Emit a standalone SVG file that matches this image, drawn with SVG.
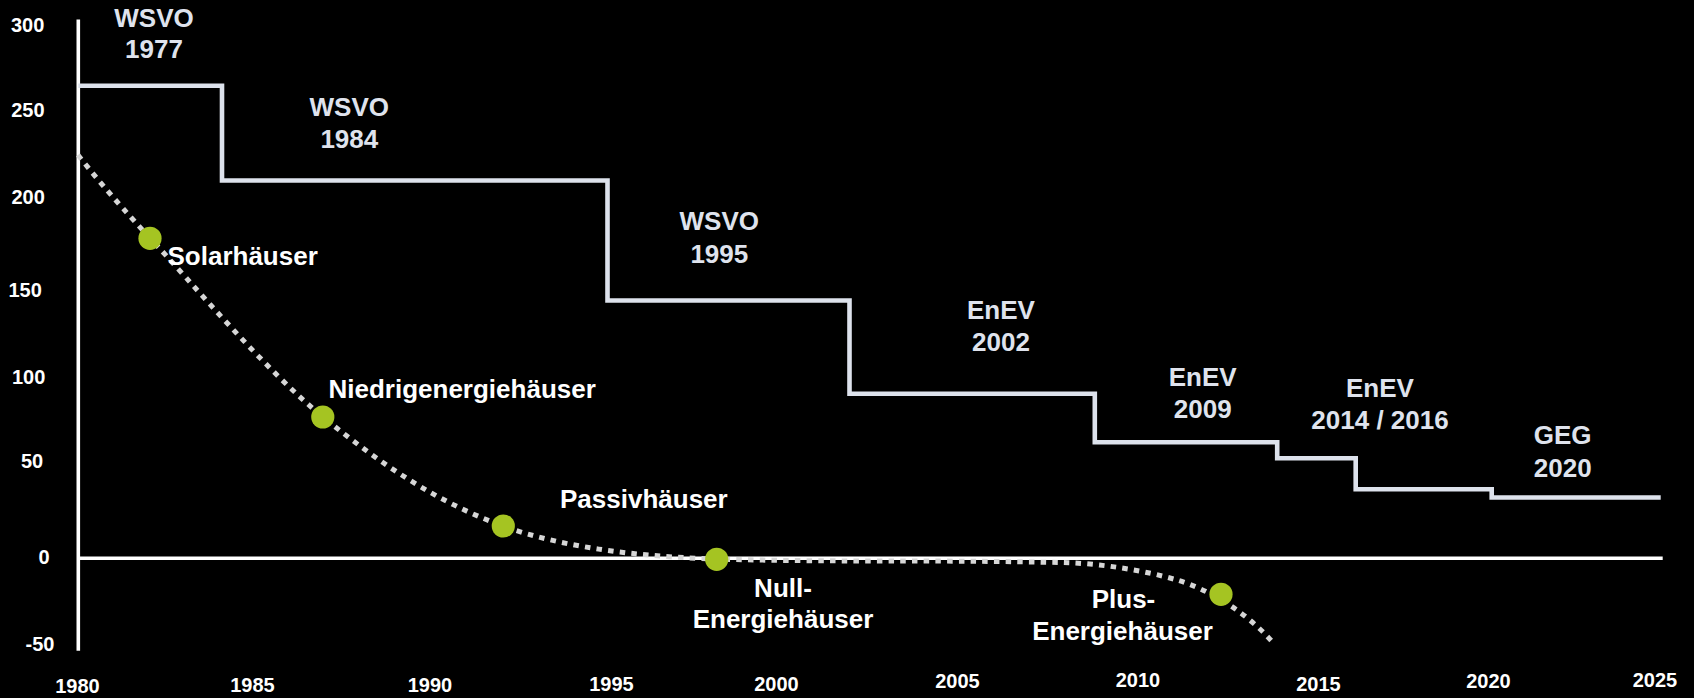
<svg xmlns="http://www.w3.org/2000/svg" width="1694" height="698" viewBox="0 0 1694 698">
<style>
text{font-family:"Liberation Sans",Arial,sans-serif;font-weight:bold}
.ax{font-size:20px;fill:#ffffff}
.xl{text-anchor:middle}
.std{font-size:26px;fill:#dfe3ed;text-anchor:middle}
.lab{font-size:26px;fill:#ffffff}
.mid{text-anchor:middle}
.axis{stroke:#ffffff;stroke-width:3.6;fill:none}
.step{stroke:#dde2ec;stroke-width:4.6;fill:none;stroke-linejoin:miter}
.trend{stroke:#d6d6d6;stroke-width:5;fill:none;stroke-dasharray:5.5 6.2}
.dot{fill:#a5c422}
</style>
<rect width="1694" height="698" fill="#000000"/>
<g id="axes">
<line class="axis" x1="78.3" y1="19.5" x2="78.3" y2="650.7"/>
<line class="axis" x1="78.3" y1="558.3" x2="1662.7" y2="558.3"/>
</g>
<g id="y-labels" class="ax">
<text x="11" y="31.5">300</text>
<text x="11.2" y="116.5">250</text>
<text x="11.5" y="204">200</text>
<text x="8.5" y="297.3">150</text>
<text x="12" y="384.3">100</text>
<text x="21" y="468">50</text>
<text x="38.5" y="564.3">0</text>
<text x="25.5" y="650.5">-50</text>
</g>
<g id="x-labels" class="ax xl">
<text x="77.5" y="693">1980</text>
<text x="252.5" y="692">1985</text>
<text x="430" y="692">1990</text>
<text x="611.5" y="691">1995</text>
<text x="776.5" y="691">2000</text>
<text x="957.5" y="688">2005</text>
<text x="1138" y="687">2010</text>
<text x="1318.5" y="691">2015</text>
<text x="1488.5" y="688">2020</text>
<text x="1655" y="687">2025</text>
</g>
<g id="connectors">
<path id="standard-steps" class="step" d="M78.3,85.8 H222 V180.5 H607.5 V300.5 H849.5 V393.8 H1094.8 V442.2 H1277.2 V458.3 H1355.7 V489.2 H1491.7 V497.5 H1660.7"/>
<path id="trend-curve" class="trend" d="M78,155 C90,170 109.2,194.3 150,238 C190.8,281.7 264.2,369 323,417 C381.8,465 437.5,502.3 503,526 C568.5,549.7 650,557 716,559 C776,560.8 840,561 900,561 C960,561 1010,561.5 1060,562.5 C1100,563 1147,571 1177,580 C1212,590.5 1250,615 1275,645"/>
</g>
<g id="standard-wsvo-1977"><text class="std" x="154" y="26.7">WSVO</text><text class="std" x="154" y="58.3">1977</text></g>
<g id="standard-wsvo-1984"><text class="std" x="349.3" y="116">WSVO</text><text class="std" x="349.3" y="148.3">1984</text></g>
<g id="standard-wsvo-1995"><text class="std" x="719.3" y="230">WSVO</text><text class="std" x="719.3" y="262.7">1995</text></g>
<g id="standard-enev-2002"><text class="std" x="1001" y="319.3">EnEV</text><text class="std" x="1001" y="351">2002</text></g>
<g id="standard-enev-2009"><text class="std" x="1202.7" y="386">EnEV</text><text class="std" x="1202.7" y="417.7">2009</text></g>
<g id="standard-enev-2014"><text class="std" x="1380" y="397.3">EnEV</text><text class="std" x="1380" y="429.3">2014 / 2016</text></g>
<g id="standard-geg-2020"><text class="std" x="1562.7" y="444">GEG</text><text class="std" x="1562.7" y="476.7">2020</text></g>
<g id="solarhaeuser"><circle class="dot" cx="150" cy="238.3" r="11.6"/><text class="lab" x="167.5" y="265">Solarhäuser</text></g>
<g id="niedrigenergiehaeuser"><circle class="dot" cx="322.8" cy="417" r="11.6"/><text class="lab" x="328.5" y="398.3">Niedrigenergiehäuser</text></g>
<g id="passivhaeuser"><circle class="dot" cx="503.3" cy="526" r="11.6"/><text class="lab" x="560" y="508.3">Passivhäuser</text></g>
<g id="null-energiehaeuser"><circle class="dot" cx="716.7" cy="559.3" r="11.6"/><text class="lab mid" x="783" y="596.7">Null-</text><text class="lab mid" x="783" y="628.3">Energiehäuser</text></g>
<g id="plus-energiehaeuser"><circle class="dot" cx="1221" cy="594.3" r="11.6"/><text class="lab mid" x="1123.5" y="607.7">Plus-</text><text class="lab mid" x="1122.5" y="640">Energiehäuser</text></g>
</svg>
